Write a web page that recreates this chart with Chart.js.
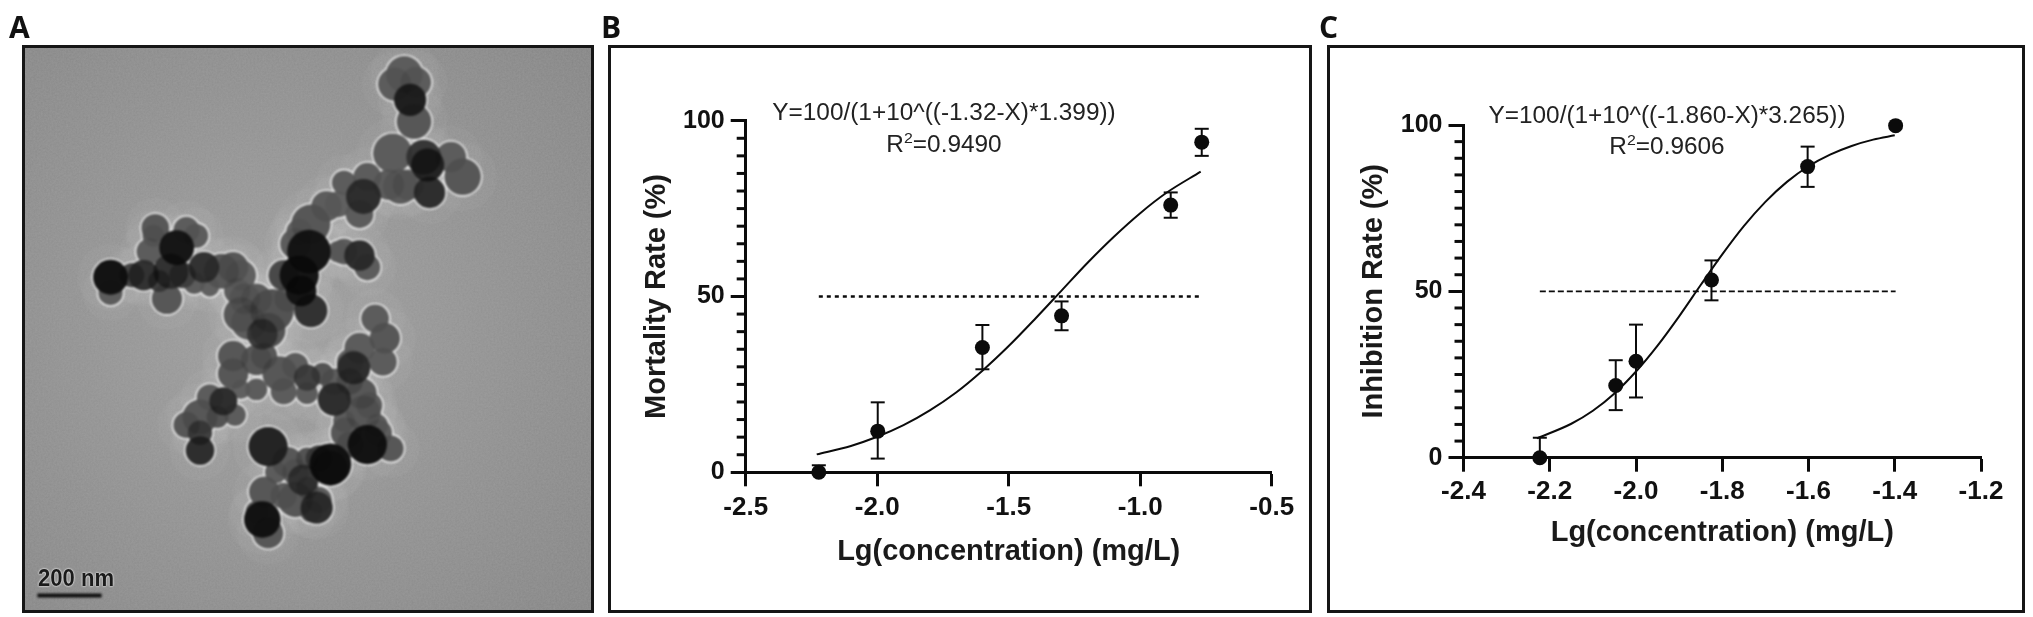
<!DOCTYPE html>
<html><head><meta charset="utf-8">
<script src="https://cdn.jsdelivr.net/npm/chart.js@4"></script>
<style>
html,body{margin:0;padding:0;background:#fff;width:2033px;height:617px;overflow:hidden}
.frame{position:absolute;box-sizing:border-box;border:3.5px solid #161616;pointer-events:none}
canvas{position:absolute}
.t{position:absolute;white-space:nowrap;font-family:"Liberation Sans",Arial,sans-serif;color:#222;transform:translate(-50%,-50%) scaleX(1.06);font-size:23px;line-height:1}
.t sup{font-size:15px;line-height:0;vertical-align:9px}
.p{position:absolute;font-family:"Open Sans",sans-serif;font-weight:700;font-size:30px;line-height:1;color:#111;transform:translateY(-50%)}
#abg{position:absolute;left:23px;top:46px;width:570px;height:566px;background-color:#8c8c8c;
background-image:url("data:image/svg+xml,%3Csvg xmlns='http://www.w3.org/2000/svg' width='570' height='566'%3E%3Cfilter id='n'%3E%3CfeTurbulence type='fractalNoise' baseFrequency='.55' numOctaves='2' seed='4'/%3E%3CfeColorMatrix values='0 0 0 0 .5 0 0 0 0 .5 0 0 0 0 .5 .5 0 0 0 0'/%3E%3C/filter%3E%3Crect width='570' height='566' filter='url(%23n)' opacity='.55'/%3E%3C/svg%3E"),radial-gradient(circle at 45% 50%,#a0a0a0 0,#909090 55%,#848484 100%)}
#sb{position:absolute;left:76px;top:578px;transform:translate(-50%,-50%) scaleX(.92);font:700 24px "Liberation Sans",sans-serif;color:#1b1b1b;text-shadow:0 0 2px #eee,0 0 2px #eee;white-space:nowrap}
</style></head><body>
<div id="abg"></div>
<canvas id="ca" width="570" height="566" style="left:23px;top:46px;filter:blur(.9px)"></canvas>
<canvas id="cb" width="702" height="566" style="left:609px;top:46px"></canvas>
<canvas id="cc" width="696" height="566" style="left:1328px;top:46px"></canvas>
<div class="frame" style="left:22px;top:45px;width:572px;height:568px"></div>
<div class="frame" style="left:608px;top:45px;width:704px;height:568px"></div>
<div class="frame" style="left:1327px;top:45px;width:698px;height:568px"></div>
<div class="p" style="left:9px;top:27px">A</div>
<div class="p" style="left:601px;top:27px">B</div>
<div class="p" style="left:1319px;top:27px">C</div>
<div id="sb">200 nm</div>
<div class="t" style="left:944px;top:112px">Y=100/(1+10^((-1.32-X)*1.399))</div>
<div class="t" style="left:944px;top:144px">R<sup>2</sup>=0.9490</div>
<div class="t" style="left:1667px;top:115px">Y=100/(1+10^((-1.860-X)*3.265))</div>
<div class="t" style="left:1667px;top:146px">R<sup>2</sup>=0.9606</div>
<script>
// Panel B
const bPointX=[-2.222,-1.998,-1.6,-1.299,-0.884,-0.766];
const bPointY=[0,11.7,35.5,44.5,76,93.9];
const bErrLow=[0,3.9,29.3,40.4,72.4,90];
const bErrHigh=[2,19.9,41.9,48.6,79.6,97.7];
const bCurveX=[-2.23,-2.1,-2.0,-1.9,-1.8,-1.7,-1.6,-1.5,-1.4,-1.3,-1.2,-1.1,-1.0,-0.9,-0.77];
const bCurveY=[5.1,7.5,10.1,13.4,17.6,22.7,28.9,35.9,43.6,51.6,59.6,67,73.7,79.5,85.5];
const bRefX=[-2.222,-0.77];
// Panel C
const cPointX=[-2.223,-2.047,-2.0,-1.825,-1.602,-1.398];
const cPointY=[0,21.7,29,53.4,87.5,99.8];
const cErrLow=[0,14.3,18.1,47.3,81.4,99.8];
const cErrHigh=[6,29.3,40,59.3,93.5,99.8];
const cCurveX=[-2.23,-2.15,-2.1,-2.05,-2.0,-1.95,-1.9,-1.85,-1.8,-1.75,-1.7,-1.65,-1.6,-1.55,-1.5,-1.45,-1.4];
const cCurveY=[5.8,10.2,14.1,19.3,25.9,33.7,42.5,51.9,61.1,69.6,76.9,82.9,87.6,91.1,93.7,95.6,96.9];
const cRefX=[-2.223,-1.398];
const refY=50;
const yMinorTicks=[5,10,15,20,25,30,35,40,45,55,60,65,70,75,80,85,90,95];
// Panel A (micrograph particles, image units)
const particleX=[1040,1015,1070,1055,1065,1010,1090,1100,1160,1190,1105,1030,945,935,925,885,840,800,770,795,770,775,885,925,945,800,700,690,675,620,630,600,525,570,400,480,505,455,385,370,440,285,285,430,410,965,990,925,985,910,900,600,600,660,720,730,790,790,860,860,930,935,575,540,605,515,515,515,620,945,890,1005,975,850,820,850,690,740,780,760,680,675,690,815,820,800,870,1000,1050,760,730,740,660,610,640,680,760,830,900,950,970,660,560,480,885,900,790,760,710,730,660,790,340,395,470,500,540,620,870];
const particleY=[190,215,210,255,310,390,400,420,400,450,490,475,450,500,545,465,525,570,590,640,700,740,640,650,680,790,790,840,850,800,760,680,680,690,580,585,600,630,640,700,690,705,745,760,715,810,860,885,920,935,920,905,950,915,950,995,960,1000,1015,970,1000,1050,1020,1010,1055,1060,1100,1145,990,1130,1100,1140,1100,1180,1165,1190,1135,1175,1220,1270,1250,1320,1355,1290,1270,1300,520,470,470,620,700,760,760,740,820,905,930,950,970,1030,1080,990,1060,1080,1070,1130,1165,1200,1200,1260,1300,1240,700,600,700,720,730,700,640];
const particleR=[42,38,35,37,40,45,40,38,35,42,36,40,32,40,32,28,35,45,30,50,45,35,30,35,30,38,50,40,35,40,35,35,35,40,32,30,28,40,30,35,40,40,28,35,25,32,35,35,32,38,30,35,35,35,40,30,30,25,38,30,35,40,32,30,25,40,28,33,22,45,35,30,30,48,30,40,45,35,35,40,35,42,35,37,30,25,30,35,35,35,35,30,35,30,40,30,30,25,30,30,25,25,25,30,25,30,25,30,25,30,25,25,28,25,30,25,22,35,25];
const particleDensity=[.1,.1,.1,.75,.15,.1,.5,.7,.1,.15,.6,.1,.1,.6,.1,.1,.1,.15,.05,.85,.85,.85,.1,.6,.1,.55,.2,.2,.45,.15,.1,.15,.55,.15,.15,.1,.1,.85,.1,.55,.55,.88,.1,.15,.4,.1,.15,.1,.1,.6,.05,.15,.15,.15,.15,.1,.4,.1,.6,.1,.15,.15,.6,.1,.1,.15,.4,.6,.05,.88,.15,.15,.1,.88,.4,.5,.7,.15,.5,.15,.15,.88,.15,.6,.1,.1,.05,.1,.1,.1,.3,.1,.1,.1,.1,.15,.1,.2,.2,.1,.1,.1,.2,.15,.1,.15,.2,.1,.1,.1,.1,.2,.35,.1,.35,.1,.05,.05,.05];
const scaleBarX=[97,262];
const scaleBarY=[1513,1513];

const FONT='"Liberation Sans",Arial,sans-serif';
const INK='#0b0b0b';
const zip=(a,b)=>a.map((v,i)=>({x:v,y:b[i]}));

function plot(id,o){
  const sets=[
    {type:'scatter',data:zip(o.px,o.py),pointRadius:7.5,pointBackgroundColor:INK,pointBorderWidth:0,order:1,clip:false},
    {type:'line',data:zip(o.cx,o.cy),borderColor:INK,borderWidth:2,pointRadius:0,cubicInterpolationMode:'monotone',order:3,clip:false},
    {type:'line',data:o.rx.map(x=>({x,y:refY})),borderColor:INK,borderWidth:o.dashW,borderDash:o.dash,pointRadius:0,order:4},
    // minor y-axis tick marks just left of the axis; the vanishing x offset keeps them
    // unsorted so the controller does not cull them as off-scale points
    {type:'scatter',data:yMinorTicks.map((y,i)=>({x:o.xmin-o.minorShift-i*1e-7,y})),pointStyle:'line',pointRadius:4.5,pointBorderWidth:3,pointBorderColor:INK,order:5,clip:false}
  ];
  o.px.forEach((x,i)=>{ if(o.lo[i]===o.hi[i])return;
    sets.push({type:'line',data:[{x,y:o.lo[i]},{x,y:o.hi[i]}],borderColor:INK,borderWidth:2,
      pointStyle:'line',pointRadius:[o.lo[i]===0?0:7,7],pointBorderWidth:2,pointBorderColor:INK,order:2,clip:false});
  });
  return new Chart(document.getElementById(id),{
    data:{datasets:sets},
    options:{responsive:false,animation:false,devicePixelRatio:1,
      layout:{autoPadding:false,padding:{top:o.top,right:o.right,left:0,bottom:0}},
      plugins:{legend:{display:false},tooltip:{enabled:false}},
      scales:{
        x:{type:'linear',min:o.xmin,max:o.xmax,
          border:{color:INK,width:3},
          grid:{drawOnChartArea:false,tickLength:14,tickWidth:3,tickColor:INK},
          ticks:{stepSize:o.xstep,maxRotation:0,autoSkip:false,padding:o.xpad,color:'#111',font:{family:FONT,weight:'bold',size:26},callback:v=>v.toFixed(1)},
          title:{display:true,text:'Lg(concentration) (mg/L)',color:'#1a1a1a',font:{family:FONT,weight:'bold',size:29},padding:{top:0,bottom:o.xtitle}},
          afterFit(s){s.height=o.xh;}},
        y:{type:'linear',position:'left',min:0,max:100,
          border:{color:INK,width:3},
          grid:{drawOnChartArea:false,tickLength:15,tickWidth:3,tickColor:INK},
          ticks:{stepSize:50,padding:6,color:'#111',font:{family:FONT,weight:'bold',size:25}},
          title:{display:true,text:o.ylab,color:'#1a1a1a',font:{family:FONT,weight:'bold',size:29},padding:{top:o.ytitle,bottom:0}},
          afterFit(s){s.width=o.yw;}}
      }}
  });
}
plot('cb',{px:bPointX,py:bPointY,lo:bErrLow,hi:bErrHigh,cx:bCurveX,cy:bCurveY,rx:bRefX,dash:[4,4],dashW:2.5,minorShift:.0171,
  xmin:-2.5,xmax:-0.5,xstep:.5,top:74.7,right:39.3,yw:136.7,xh:139.7,xpad:6,xtitle:43,ytitle:31,ylab:'Mortality Rate (%)'});
plot('cc',{px:cPointX,py:cPointY,lo:cErrLow,hi:cErrHigh,cx:cCurveX,cy:cCurveY,rx:cRefX,dash:[6,3],dashW:1.8,minorShift:.0104,
  xmin:-2.4,xmax:-1.2,xstep:.2,top:79,right:43,yw:135.5,xh:154.3,xpad:5,xtitle:62,ytitle:29,ylab:'Inhibition Rate (%)'});

// Panel A drawn as overlapping bubbles in image units
const unit=570/1465*1.12;
const pts=k=>particleX.map((x,i)=>({x,y:particleY[i],r:particleR[i]*unit+k}));
new Chart(document.getElementById('ca'),{
  data:{datasets:[
    {type:'bubble',data:pts(0),backgroundColor:c=>`rgba(8,8,8,${particleDensity[c.dataIndex]})`,borderWidth:0,order:1},
    {type:'bubble',data:pts(0),backgroundColor:'#666666',borderWidth:0,order:2},
    {type:'bubble',data:pts(1.6),backgroundColor:'#ececec',borderWidth:0,order:3},
    {type:'bubble',data:pts(16),backgroundColor:'rgba(255,255,255,.035)',borderWidth:0,order:4},
    {type:'line',data:zip(scaleBarX,scaleBarY),borderColor:'#111',borderWidth:4,pointRadius:0,order:0}
  ]},
  options:{responsive:false,animation:false,devicePixelRatio:1,layout:{autoPadding:false,padding:0},
    plugins:{legend:{display:false},tooltip:{enabled:false}},
    scales:{x:{type:'linear',display:false,min:60,max:1525},y:{type:'linear',display:false,min:118,max:1555,reverse:true}}}
});
</script>
</body></html>
